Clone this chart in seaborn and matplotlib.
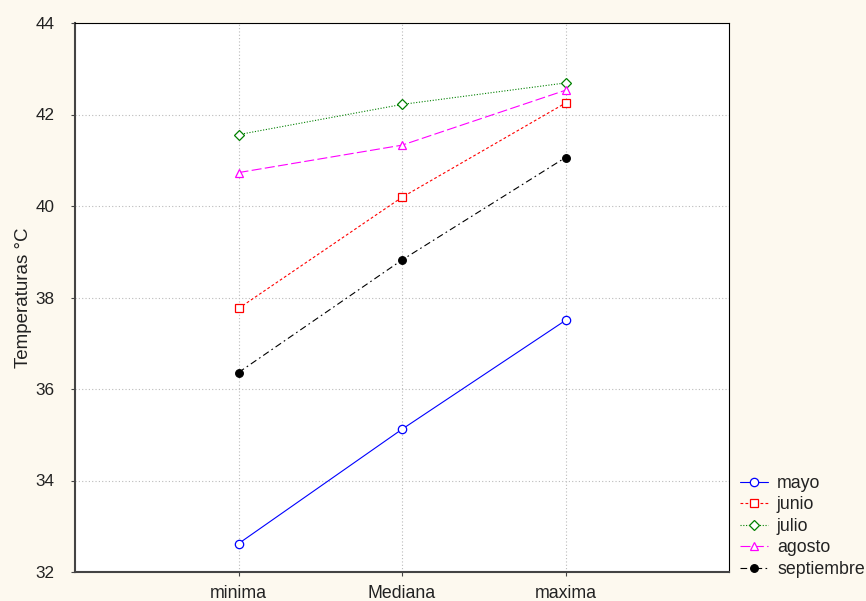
import matplotlib
matplotlib.use("Agg")
import matplotlib.pyplot as plt
import seaborn as sns
import pandas as pd

categories = ["minima", "Mediana", "maxima"]
mayo = [32.62, 35.12, 37.50]
junio = [37.76, 40.19, 42.25]
julio = [41.56, 42.22, 42.69]
agosto = [40.73, 41.33, 42.53]
septiembre = [36.36, 38.82, 41.06]

series = {"mayo": mayo, "junio": junio, "julio": julio, "agosto": agosto, "septiembre": septiembre}
styles = {
    "mayo": dict(color="#0000FF", ls="-", marker="o", mfc="white", ms=6),
    "junio": dict(color="#FF0000", ls=(0, (2.5, 2)), marker="s", mfc="white", ms=6),
    "julio": dict(color="#008000", ls=(0, (1, 1.5)), marker="D", mfc="white", ms=5),
    "agosto": dict(color="#FF00FF", ls=(0, (9, 3)), marker="^", mfc="white", ms=6),
    "septiembre": dict(color="#000000", ls=(0, (6, 3, 1.5, 3)), marker="o", mfc="black", ms=5.5),
}

sns.set_style("white")
plt.rcParams["font.family"] = ["Liberation Sans", "DejaVu Sans"]

bg = "#FDF9EF"
fig = plt.figure(figsize=(8.66, 6.01), dpi=100, facecolor=bg)
ax = fig.add_axes([75 / 866, 1 - 572 / 601, (729 - 75) / 866, (572 - 23) / 601])
ax.set_facecolor("white")

for name, vals in series.items():
    df = pd.DataFrame({"x": range(len(categories)), "y": vals})
    st = styles[name]
    sns.lineplot(data=df, x="x", y="y", ax=ax, color=st["color"], linestyle=st["ls"],
                 linewidth=0.8, marker=st["marker"], markersize=st["ms"],
                 markerfacecolor=st["mfc"], markeredgecolor=st["color"], markeredgewidth=0.9,
                 label=name)

ax.set_xlim(-1, 3)
ax.set_ylim(32, 44)
ax.set_xticks(range(len(categories)))
ax.set_xticklabels(categories, fontsize=12.8)
ax.set_yticks([32, 34, 36, 38, 40, 42, 44])
ax.set_yticklabels([str(v) for v in [32, 34, 36, 38, 40, 42, 44]], fontsize=12.3)
ax.set_xlabel("")
ax.set_ylabel("Temperaturas °C", fontsize=13.5, color="#222222")
ax.yaxis.set_label_coords(-0.066, 0.5)
ax.grid(True, linestyle=(0, (1, 2)), color="#BBBBBB", linewidth=0.8)
ax.tick_params(axis="both", labelcolor="#222222", length=3, direction="out",
               bottom=True, left=True, color="#444444")
ax.tick_params(axis="x", pad=6)
ax.tick_params(axis="y", pad=12)
for s in ["left", "bottom"]:
    ax.spines[s].set_color("#444444")
    ax.spines[s].set_linewidth(1.5)
for s in ["top", "right"]:
    ax.spines[s].set_color("#000000")
    ax.spines[s].set_linewidth(0.8)

leg = ax.legend(loc="lower left", bbox_to_anchor=(1.0, -0.03), frameon=False, fontsize=12.8,
                handlelength=1.6, handletextpad=0.5, labelspacing=0.25, borderaxespad=0.2)
for t in leg.get_texts():
    t.set_color("#222222")

fig.savefig("out.png", dpi=100, facecolor=bg)
